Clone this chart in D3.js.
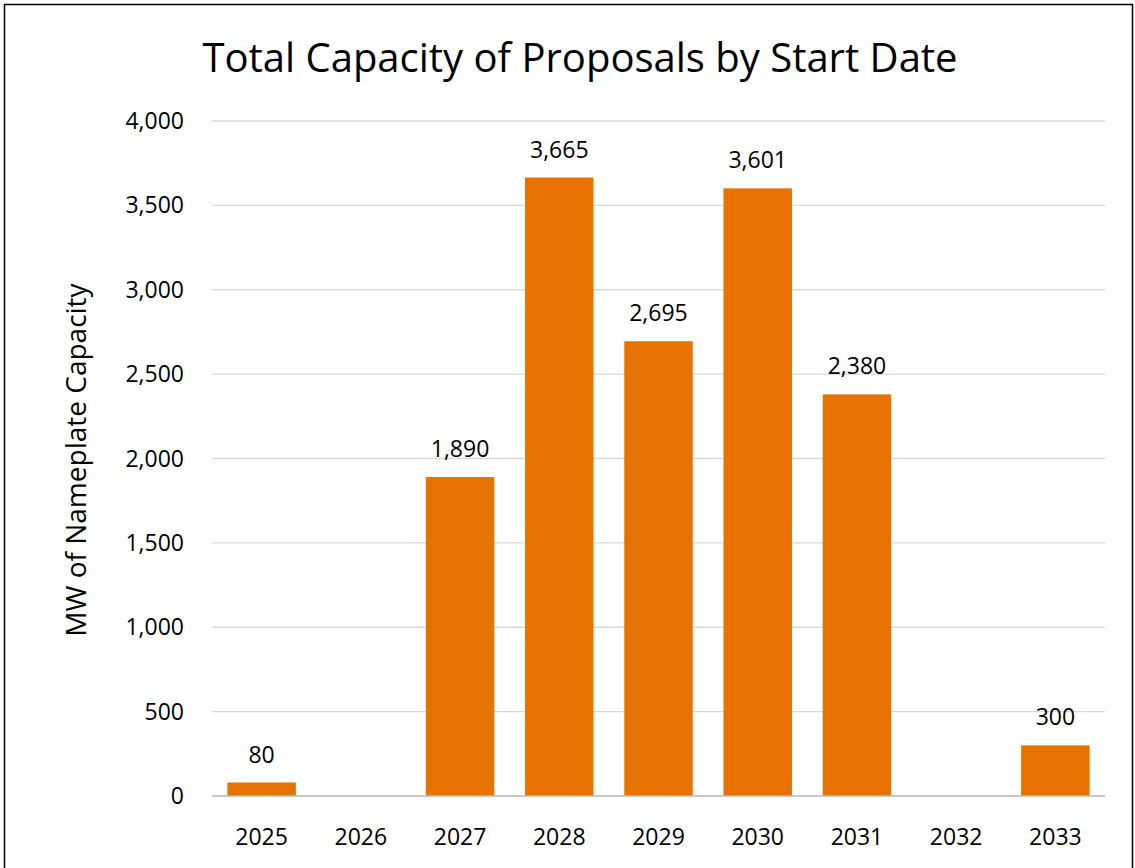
<!DOCTYPE html>
<html><head><meta charset="utf-8">
<script src="https://cdn.jsdelivr.net/npm/d3@7"></script>
<style>body{margin:0;background:#fff;} text{font-family:"Open Sans",sans-serif;}</style>
</head><body><div class="canvas"></div>
<script>
const years = ['2025','2026','2027','2028','2029','2030','2031','2032','2033'];
const capacity = [80, 0, 1890, 3665, 2695, 3601, 2380, 0, 300];
const yTicks = [0, 500, 1000, 1500, 2000, 2500, 3000, 3500, 4000];

const rows = years.map((yr, i) => ({ year: yr, value: capacity[i] }));

const svg = d3.select('.canvas').append('svg').attr('width', 1135).attr('height', 868);

// outer frame
svg.append('rect').attr('x', 4.5).attr('y', 4.5).attr('width', 1128).attr('height', 880)
  .attr('fill', 'none').attr('stroke', '#000').attr('stroke-width', 1.5);

const x = d3.scaleBand().domain(years).range([212, 1105]).paddingInner(0.31).paddingOuter(0.155);
const y = d3.scaleLinear().domain([0, 4000]).range([796, 121]);

// gridlines
svg.append('g').selectAll('line').data(yTicks).join('line')
  .attr('x1', 212).attr('x2', 1105)
  .attr('y1', d => y(d)).attr('y2', d => y(d))
  .attr('stroke', '#d9d9d9').attr('stroke-width', 1.3);

svg.append('g').selectAll('text').data(yTicks).join('text')
  .attr('x', 184).attr('y', d => y(d)).attr('dy', '0.35em')
  .attr('text-anchor', 'end').attr('font-size', 23).attr('fill', '#000')
  .text(d => d3.format(',')(d));

// bars
svg.append('g').selectAll('rect').data(rows).join('rect')
  .attr('x', d => x(d.year)).attr('width', x.bandwidth())
  .attr('y', d => y(d.value)).attr('height', d => y(0) - y(d.value))
  .attr('fill', '#e87200');

svg.append('line').attr('x1', 212).attr('x2', 1105).attr('y1', y(0)).attr('y2', y(0))
  .attr('stroke', '#bfbfbf').attr('stroke-width', 1.3);

// value labels
svg.append('g').selectAll('text').data(rows.filter(d => d.value > 0)).join('text')
  .attr('x', d => x(d.year) + x.bandwidth() / 2)
  .attr('y', d => y(d.value) - 20)
  .attr('text-anchor', 'middle').attr('font-size', 23)
  .text(d => d3.format(',')(d.value));

// category labels
svg.append('g').selectAll('text').data(years).join('text')
  .attr('x', d => x(d) + x.bandwidth() / 2).attr('y', 845)
  .attr('text-anchor', 'middle').attr('font-size', 23).text(d => d);

svg.append('text').attr('x', 580).attr('y', 72).attr('text-anchor', 'middle')
  .attr('font-size', 40).text('Total Capacity of Proposals by Start Date');

svg.append('text').attr('transform', 'translate(86,460) rotate(-90)')
  .attr('text-anchor', 'middle').attr('font-size', 28).text('MW of Nameplate Capacity');
</script></body></html>
